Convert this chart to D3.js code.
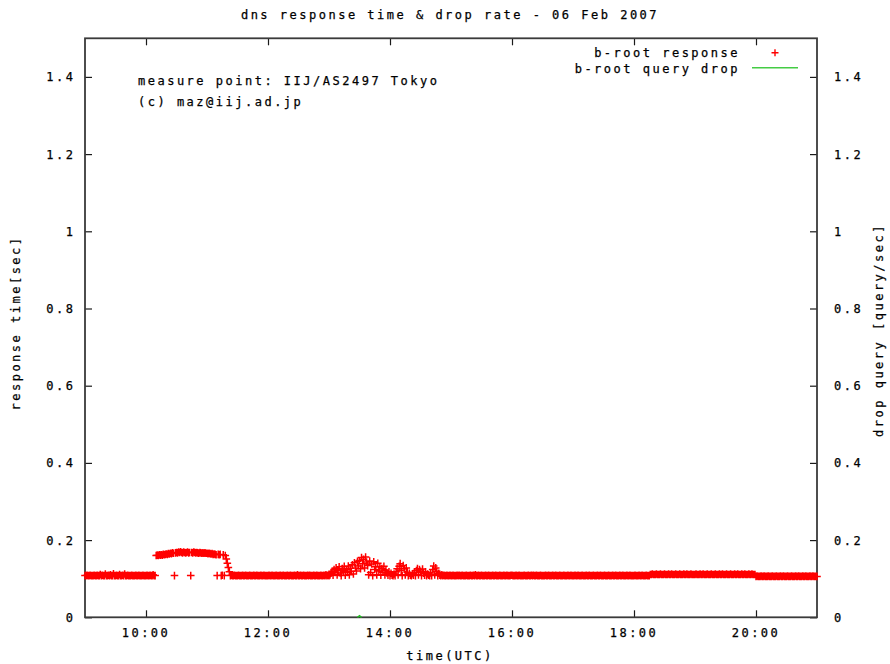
<!DOCTYPE html>
<html>
<head>
<meta charset="utf-8">
<script src="https://cdn.jsdelivr.net/npm/d3@7"></script>
<style>
  html, body { margin: 0; padding: 0; background: #fff; }
  svg text { font-family: "DejaVu Sans Mono", monospace; font-size: 12px; letter-spacing: 2.5px; fill: #000; stroke: #000; stroke-width: 0.25px; }
</style>
</head>
<body>
<svg id="chart" width="890" height="664"></svg>
<script>
// ---- chart text ----
const chartTitle = "dns response time & drop rate - 06 Feb 2007";
const noteLines = ["measure point: IIJ/AS2497 Tokyo", "(c) maz@iij.ad.jp"];
const seriesNames = ["b-root response", "b-root query drop"];
const xAxisTitle = "time(UTC)";
const yAxisTitle = "response time[sec]";
const y2AxisTitle = "drop query [query/sec]";

// ---- axes ----
const day = "2007-02-06";
const timeRange = ["09:00", "21:00"];
const xTickLabels = ["10:00", "12:00", "14:00", "16:00", "18:00", "20:00"];
const yTickValues = [0, 0.2, 0.4, 0.6, 0.8, 1, 1.2, 1.4];
const yTickLabels = ["0", "0.2", "0.4", "0.6", "0.8", "1", "1.2", "1.4"];
const yRange = [0, 1.5];

// ---- b-root response time, ms, one probe per minute from 09:00 to 21:00 ----
const probeStart = "09:00";
const probeStepMinutes = 1;
const responseMs = [
  // 09:00
  108,108,109,108,108,109,108,108,108,109,
  108,108,109,108,108,111,108,109,108,108,
  112,108,108,109,108,110,108,108,113,108,
  108,109,108,108,111,108,108,109,108,112,
  108,108,109,108,108,108,109,108,108,108,
  109,108,108,109,108,108,108,109,108,108,
  // 10:00
  108,109,108,108,109,108,108,110,108,108,
  160,161,160,162,161,162,161,163,162,163,
  164,163,165,164,166,165,167,166,108,167,
  168,167,169,168,170,168,167,169,168,167,
  168,169,167,168,108,168,167,169,168,167,
  168,167,166,168,167,166,167,166,167,166,
  // 11:00
  166,165,166,165,164,165,163,164,163,162,
  108,163,162,163,108,109,162,108,160,151,
  140,129,118,108,109,108,108,109,108,108,
  108,109,108,108,108,109,108,108,109,108,
  108,108,109,108,108,108,109,108,108,109,
  108,108,108,109,108,108,109,108,108,108,
  // 12:00
  108,109,108,108,109,108,108,108,109,108,
  108,108,109,108,108,109,108,108,108,109,
  108,108,109,108,108,108,109,108,108,110,
  108,108,109,108,108,109,108,108,108,109,
  108,109,108,108,108,109,108,108,109,108,
  108,108,109,108,108,109,108,110,108,109,
  // 13:00
  108,110,114,119,109,124,116,128,110,122,
  131,115,108,126,120,132,109,124,116,133,
  110,127,119,136,112,141,128,120,145,133,
  147,126,155,139,150,128,156,143,134,110,
  146,116,138,108,144,124,131,110,140,120,
  130,109,126,117,132,110,122,115,109,118,
  // 14:00
  108,114,109,108,112,108,118,126,110,132,
  139,121,108,134,126,110,128,117,108,114,
  109,108,113,109,116,108,121,126,110,124,
  119,108,125,114,109,118,108,112,109,108,
  115,108,124,133,110,128,119,108,114,109,
  108,110,108,109,108,108,109,108,108,109,
  // 15:00
  108,108,109,108,108,108,109,108,109,108,
  108,109,108,108,108,109,108,108,108,109,
  108,108,109,108,110,108,108,109,108,108,
  109,108,108,108,109,108,108,109,108,108,
  108,109,108,108,109,108,108,108,109,108,
  108,108,109,108,108,109,108,108,108,109,
  // 16:00
  109,108,108,108,109,108,108,109,108,108,
  108,108,109,108,108,108,109,108,108,109,
  108,109,108,108,109,108,108,108,109,108,
  108,108,108,109,108,108,109,108,108,108,
  109,108,108,109,108,108,108,109,108,108,
  108,109,108,108,108,109,108,108,109,108,
  // 17:00
  108,108,109,108,108,109,108,108,108,109,
  108,108,108,109,108,108,109,108,108,108,
  109,108,108,108,109,108,108,109,108,108,
  108,109,108,108,108,109,108,108,108,109,
  108,108,109,108,108,108,109,108,108,109,
  108,108,108,109,108,108,109,108,108,108,
  // 18:00
  108,109,108,108,108,109,108,108,109,108,
  108,108,109,108,108,108,111,111,112,111,
  111,111,112,111,111,111,112,111,111,111,
  112,111,111,111,112,111,111,112,111,111,
  111,112,111,111,111,112,111,111,111,112,
  111,111,112,111,111,111,112,111,111,111,
  // 19:00
  111,112,111,111,111,112,111,111,112,111,
  111,111,112,111,111,111,112,111,111,111,
  112,111,111,111,112,111,111,112,111,111,
  111,112,111,111,111,112,111,111,111,112,
  111,111,112,111,111,111,112,111,111,112,
  111,111,111,112,111,111,112,111,111,111,
  // 20:00
  106,107,106,106,106,107,106,106,107,106,
  106,106,107,106,106,106,107,106,106,106,
  107,106,106,106,107,106,106,107,106,106,
  106,107,106,106,106,107,106,106,106,107,
  106,106,107,106,106,106,107,106,106,107,
  106,106,106,107,106,106,107,106,106,106,
  // 21:00
  106
];

// ---- b-root query drop rate, query/sec ----
const dropTimes = ["13:28", "13:30", "13:32"];
const dropRate = [0, 0.004, 0];

// ---- layout ----
const plot = { left: 85, right: 817, top: 38.3, bottom: 617.3 };
const parseTime = d3.utcParse("%Y-%m-%d %H:%M");
const at = t => parseTime(day + " " + t);

const x = d3.scaleUtc().domain(timeRange.map(at)).range([plot.left, plot.right]);
const y = d3.scaleLinear().domain(yRange).range([plot.bottom, plot.top]);
const y2 = d3.scaleLinear().domain(yRange).range([plot.bottom, plot.top]);

const svg = d3.select("#chart");
svg.append("rect").attr("width", 890).attr("height", 664).attr("fill", "#fff");

const tickLen = 7;
const xTickDates = xTickLabels.map(at);

// tick marks on all four sides, pointing inward
const tickStyle = g => {
  g.select(".domain").remove();
  g.selectAll(".tick line").attr("stroke", "#1a1a1a").attr("stroke-width", 1.2);
  g.selectAll(".tick text").remove();
};
svg.append("g").attr("transform", `translate(0,${plot.bottom})`)
  .call(d3.axisBottom(x).tickValues(xTickDates).tickSize(-tickLen)).call(tickStyle);
svg.append("g").attr("transform", `translate(0,${plot.top})`)
  .call(d3.axisTop(x).tickValues(xTickDates).tickSize(-tickLen)).call(tickStyle);
svg.append("g").attr("transform", `translate(${plot.left},0)`)
  .call(d3.axisLeft(y).tickValues(yTickValues).tickSize(-tickLen)).call(tickStyle);
svg.append("g").attr("transform", `translate(${plot.right},0)`)
  .call(d3.axisRight(y2).tickValues(yTickValues).tickSize(-tickLen)).call(tickStyle);

// plot border
svg.append("rect")
  .attr("x", plot.left).attr("y", plot.top)
  .attr("width", plot.right - plot.left).attr("height", plot.bottom - plot.top)
  .attr("fill", "none").attr("stroke", "#3a3a3a").attr("stroke-width", 1.8);

// tick labels
svg.append("g").selectAll("text").data(xTickLabels).join("text")
  .attr("x", d => x(at(d))).attr("y", 637).attr("text-anchor", "middle").text(d => d);
svg.append("g").selectAll("text").data(yTickValues).join("text")
  .attr("x", 75.5).attr("y", d => y(d) + 4.5).attr("text-anchor", "end")
  .text((d, i) => yTickLabels[i]);
svg.append("g").selectAll("text").data(yTickValues).join("text")
  .attr("x", 834).attr("y", d => y2(d) + 4.5).attr("text-anchor", "start")
  .text((d, i) => yTickLabels[i]);

// titles
svg.append("text").attr("x", 450).attr("y", 19).attr("text-anchor", "middle").text(chartTitle);
svg.append("text").attr("x", 450).attr("y", 660).attr("text-anchor", "middle").text(xAxisTitle);
svg.append("text").attr("transform", "translate(20,323) rotate(-90)").attr("text-anchor", "middle").text(yAxisTitle);
svg.append("text").attr("transform", "translate(883,330) rotate(-90)").attr("text-anchor", "middle").text(y2AxisTitle);

// notes
svg.append("g").selectAll("text").data(noteLines).join("text")
  .attr("x", 138).attr("y", (d, i) => 85 + i * 21).text(d => d);

// response time: red "+" per probe
const plusPath = (cx, cy, r) => `M${cx - r},${cy}H${cx + r}M${cx},${cy - r}V${cy + r}`;
const probeStartDate = at(probeStart);
const probes = responseMs.map((ms, i) => ({
  t: d3.utcMinute.offset(probeStartDate, i * probeStepMinutes),
  v: ms / 1000
}));
svg.append("path")
  .attr("d", probes.map(p => plusPath(x(p.t), y(p.v), 3.8)).join(""))
  .attr("fill", "none").attr("stroke", "#ff0000").attr("stroke-width", 1.5);

// query drop rate: green line
const dropPoints = dropTimes.map((t, i) => ({ t: at(t), v: dropRate[i] }));
svg.append("path")
  .datum(dropPoints)
  .attr("d", d3.line().x(d => x(d.t)).y(d => y2(d.v)))
  .attr("fill", "none").attr("stroke", "#22bb22").attr("stroke-width", 1.5);

// legend
const legendTextX = 740;
svg.append("text").attr("x", legendTextX).attr("y", 57).attr("text-anchor", "end").text(seriesNames[0]);
svg.append("path").attr("d", plusPath(775, 52.7, 3.5))
  .attr("fill", "none").attr("stroke", "#ff0000").attr("stroke-width", 1.4);
svg.append("text").attr("x", legendTextX).attr("y", 73).attr("text-anchor", "end").text(seriesNames[1]);
svg.append("line").attr("x1", 752).attr("x2", 798).attr("y1", 67.7).attr("y2", 67.7)
  .attr("stroke", "#44cc44").attr("stroke-width", 1.5);
</script>
</body>
</html>
